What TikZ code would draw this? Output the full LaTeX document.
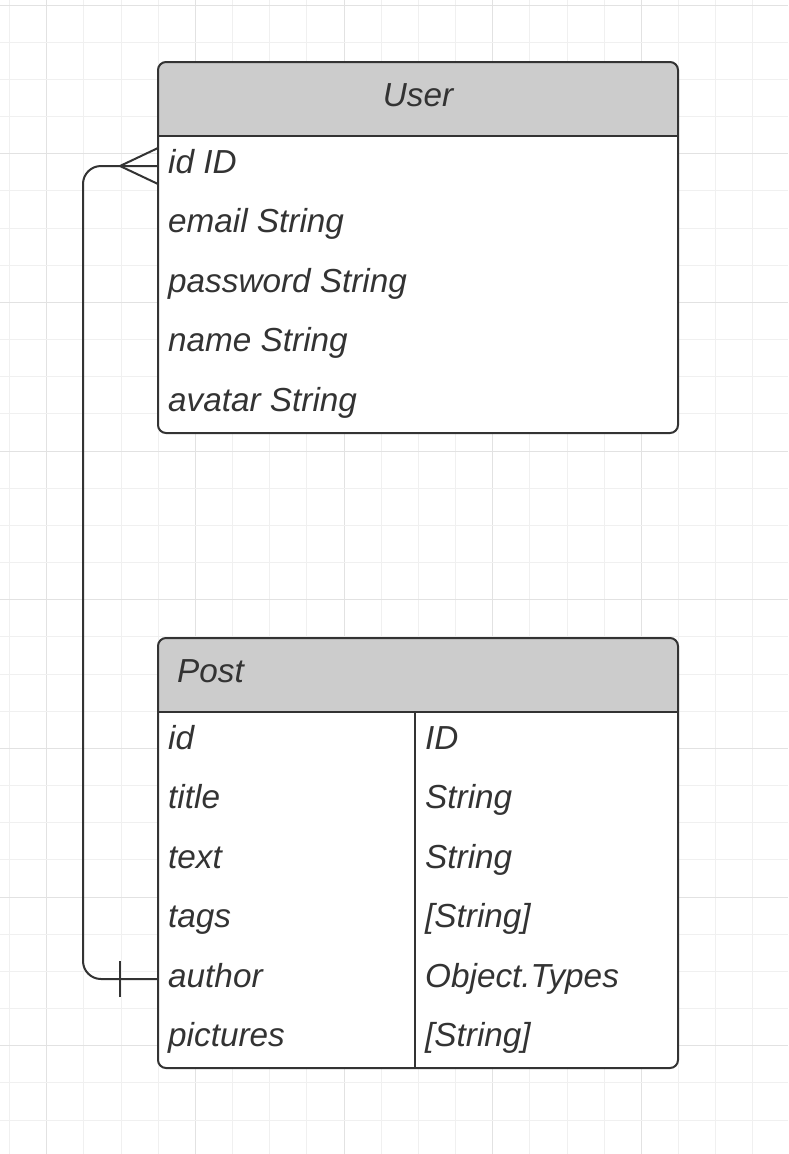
\documentclass[tikz,border=0pt]{standalone}
\usepackage{fontspec}
\setmainfont{Liberation Sans}
\usetikzlibrary{positioning}
\definecolor{gridminor}{HTML}{F0F0F0}
\definecolor{gridmajor}{HTML}{E2E2E2}
\definecolor{headgray}{HTML}{CCCCCC}
\definecolor{inkgray}{HTML}{333333}
\tikzset{
  field/.style={anchor=base west, inner sep=0pt, text=inkgray,
                font=\itshape\fontsize{33.3}{35}\selectfont},
  boxline/.style={draw=inkgray, line width=2pt},
}
\begin{document}
\begin{tikzpicture}[x=1pt,y=-1pt]
        \useasboundingbox (0,0) rectangle (788,1154);
        \fill[white] (0,0) rectangle (788,1154);
        % grid
        \foreach \k in {0,...,21} {
            \pgfmathsetmacro{\gx}{9.5+37.17*\k}
            \pgfmathtruncatemacro{\r}{mod(\k,4)}
            \ifnum\r=1
                \draw[gridmajor, line width=1pt] (\gx,0) -- (\gx,1154);
            \else
                \draw[gridminor, line width=1pt] (\gx,0) -- (\gx,1154);
            \fi
        }
        \foreach \k in {0,...,31} {
            \pgfmathsetmacro{\gy}{5+37.17*\k}
            \pgfmathtruncatemacro{\r}{mod(\k,4)}
            \ifnum\r=0
                \draw[gridmajor, line width=1pt] (0,\gy) -- (788,\gy);
            \else
                \draw[gridminor, line width=1pt] (0,\gy) -- (788,\gy);
            \fi
        }

        % User
        \fill[white, rounded corners=8] (158,62) rectangle (678,433);
        \fill[headgray] (158,136) [rounded corners=8] -- (158,62) -- (678,62) [sharp corners] -- (678,136) -- cycle;
        \draw[boxline] (158,136) -- (678,136);
        \draw[boxline, rounded corners=8] (158,62) rectangle (678,433);
        \node[field, anchor=base] (usertitle) at (418,106) {User};
        \node[field] (userid) at (168,173) {id ID};
        \node[field] (useremail) at (168,232.5) {email String};
        \node[field] (userpass) at (168,292) {password String};
        \node[field] (username) at (168,351.5) {name String};
        \node[field] (useravatar) at (168,411) {avatar String};

        % Post
        \fill[white, rounded corners=8] (158,638) rectangle (678,1068);
        \fill[headgray] (158,712) [rounded corners=8] -- (158,638) -- (678,638) [sharp corners] -- (678,712) -- cycle;
        \draw[boxline] (158,712) -- (678,712);
        \draw[boxline] (415,712) -- (415,1068);
        \draw[boxline, rounded corners=8] (158,638) rectangle (678,1068);
        \node[field] (posttitle) at (177,682) {Post};
        \node[field] (postid) at (168,749) {id};
        \node[field] (posttitlef) at (168,808.5) {title};
        \node[field] (posttext) at (168,868) {text};
        \node[field] (posttags) at (168,927.5) {tags};
        \node[field] (postauthor) at (168,987) {author};
        \node[field] (postpics) at (168,1046.5) {pictures};
        \node[field] (postidt) at (425,749) {ID};
        \node[field] (posttitlet) at (425,808.5) {String};
        \node[field] (posttextt) at (425,868) {String};
        \node[field] (posttagst) at (425,927.5) {[String]};
        \node[field] (postauthort) at (425,987) {Object.Types};
        \node[field] (postpicst) at (425,1046.5) {[String]};

        % relation author -> user id
        \coordinate (userend) at (158,166);
        \coordinate (crow) at (120,166);
        \coordinate (postend) at (158,979);
        \coordinate (bar) at (120,979);
        \draw[inkgray, line width=2pt, rounded corners=18] (userend) -- (83,166) -- (83,979) -- (postend);
        \draw[inkgray, line width=2pt] (158,148) -- (crow) -- (158,184);
        \draw[inkgray, line width=2pt] ([yshift=-18]bar) -- ([yshift=18]bar);
\end{tikzpicture}
\end{document}
